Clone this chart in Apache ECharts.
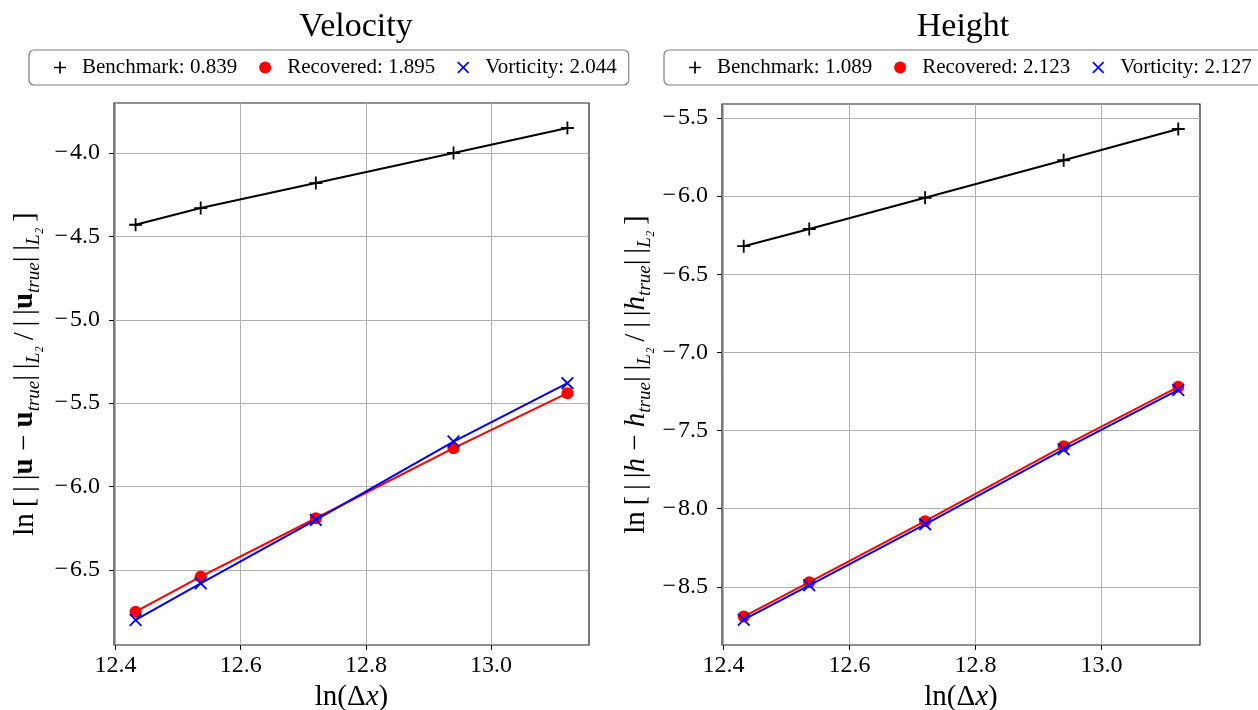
<!DOCTYPE html>
<html>
<head>
<meta charset="utf-8">
<script src="https://cdn.jsdelivr.net/npm/echarts@6/dist/echarts.min.js"></script>
<style>
  html, body, #main { width: 1258px; height: 710px; margin: 0; background: #fff; }
</style>
</head>
<body>
<div id="main"></div>
<script>
// ln(dx) for the five grids
var lnDx = [12.432, 12.536, 12.720, 12.940, 13.122];

// velocity errors
var velBench = [-4.43, -4.33, -4.18, -4.00, -3.85];
var velRec   = [-6.75, -6.54, -6.19, -5.77, -5.44];
var velVort  = [-6.80, -6.58, -6.20, -5.73, -5.38];
var velNames = ['Benchmark: 0.839', 'Recovered: 1.895', 'Vorticity: 2.044'];

// height errors
var hBench = [-6.32, -6.21, -6.01, -5.77, -5.57];
var hRec   = [-8.69, -8.47, -8.08, -7.60, -7.22];
var hVort  = [-8.71, -8.49, -8.10, -7.62, -7.24];
var hNames = ['Benchmark: 1.089', 'Recovered: 2.123', 'Vorticity: 2.127'];

var xTicks = [12.4, 12.6, 12.8, 13.0];
var velTicks = [-6.5, -6.0, -5.5, -5.0, -4.5, -4.0];
var hTicks = [-8.5, -8.0, -7.5, -7.0, -6.5, -6.0, -5.5];

var FONT = 'Liberation Serif';
var plusPath = 'path://M4.3,0h1.4v4.3h4.3v1.4h-4.3v4.3h-1.4v-4.3h-4.3v-1.4h4.3z';
var crossPath = 'path://M0,1L1,0L5,4L9,0L10,1L6,5L10,9L9,10L5,6L1,10L0,9L4,5Z';
var colors = ['#000000', '#ff0000', '#0000ff'];
var symbols = [plusPath, 'circle', crossPath];
var symSizes = [13, 12, 13];

function pairs(ys) {
  return ys.map(function (y, i) { return [lnDx[i], y]; });
}
function fmt(v) {
  return v.toFixed(1).replace('-', '\u2212\u200a');
}

function makeSeries(idx, names, arrs) {
  return arrs.map(function (ys, k) {
    return {
      name: names[k],
      type: 'line',
      xAxisIndex: idx, yAxisIndex: idx,
      data: pairs(ys),
      symbol: symbols[k],
      symbolSize: symSizes[k],
      showAllSymbol: true,
      lineStyle: { color: colors[k], width: 2 },
      itemStyle: { color: colors[k] },
      z: 3 + k
    };
  });
}

function makeLegend(names, left) {
  return {
    left: left, top: 50, width: 620,
    orient: 'horizontal',
    data: names.map(function (n, k) {
      return { name: n, icon: symbols[k], itemStyle: { color: colors[k] } };
    }),
    itemWidth: 12, itemHeight: 12, itemGap: 22,
    padding: [7, 12, 7, 25],
    borderColor: '#7f7f7f', borderWidth: 1.2, borderRadius: 5,
    textStyle: { fontFamily: FONT, fontSize: 21, color: '#000', padding: [0, 0, 0, 11] },
    selectedMode: false
  };
}

function xAxis(idx) {
  return {
    type: 'value', gridIndex: idx,
    min: 12.3975, max: 13.1565,
    name: 'ln(\u0394{i|x})',
    nameLocation: 'middle', nameGap: 36,
    nameTextStyle: { fontFamily: FONT, fontSize: 29, color: '#000',
      rich: { i: { fontFamily: FONT, fontSize: 29, fontStyle: 'italic' } } },
    axisLine: { show: false },
    axisTick: { show: true, length: 5, lineStyle: { color: '#000' }, customValues: xTicks },
    axisLabel: { customValues: xTicks, formatter: fmt, fontFamily: FONT, fontSize: 24, color: '#000', margin: 9 },
    splitLine: { show: true, lineStyle: { color: '#b0b0b0', width: 1 } }
  };
}

function yAxis(idx, min, max, ticks, name, gap) {
  return {
    type: 'value', gridIndex: idx,
    min: min, max: max,
    name: name,
    nameLocation: 'middle', nameGap: gap, nameRotate: 90,
    nameTextStyle: {
      fontFamily: FONT, fontSize: 29, color: '#000', lineHeight: 36,
      rich: {
        b: { fontFamily: FONT, fontSize: 29, fontWeight: 'bold', lineHeight: 36 },
        i: { fontFamily: FONT, fontSize: 29, fontStyle: 'italic', lineHeight: 36 },
        s: { fontFamily: FONT, fontSize: 19, fontStyle: 'italic', verticalAlign: 'bottom', lineHeight: 36 }
      }
    },
    axisLine: { show: false },
    axisTick: { show: true, length: 5, lineStyle: { color: '#000' }, customValues: ticks },
    axisLabel: { customValues: ticks, formatter: fmt, fontFamily: FONT, fontSize: 24, color: '#000', margin: 14 },
    splitLine: { show: true, lineStyle: { color: '#b0b0b0', width: 1 } }
  };
}

function yName(v) {
  var bar = '|\u2009|';
  return 'ln\u2009[\u2009' + bar + v + ' \u2212 ' + v + '{s|true}' + bar + '{s|L\u2082}\u2009/\u2009' +
    bar + v + '{s|true}' + bar + '{s|L\u2082}\u2009]';
}

var chart = echarts.init(document.getElementById('main'));
chart.setOption({
  animation: false,
  backgroundColor: '#fff',
  title: [
    { text: 'Velocity', left: 351, top: 5, textAlign: 'center',
      textStyle: { fontFamily: FONT, fontSize: 34, fontWeight: 'normal', color: '#000' } },
    { text: 'Height', left: 958, top: 5, textAlign: 'center',
      textStyle: { fontFamily: FONT, fontSize: 34, fontWeight: 'normal', color: '#000' } }
  ],
  legend: [makeLegend(velNames, 29), makeLegend(hNames, 664)],
  grid: [
    { left: 114, top: 103, width: 475, height: 542, show: true, borderColor: '#222', borderWidth: 1.2,
      containLabel: false, outerBoundsMode: 'none' },
    { left: 722, top: 104, width: 478, height: 541, show: true, borderColor: '#222', borderWidth: 1.2,
      containLabel: false, outerBoundsMode: 'none' }
  ],
  xAxis: [xAxis(0), xAxis(1)],
  yAxis: [
    yAxis(0, -6.95, -3.70, velTicks, yName('{b|u}'), 71),
    yAxis(1, -8.872, -5.41, hTicks, yName('{i|h}'), 68)
  ],
  series: makeSeries(0, velNames, [velBench, velRec, velVort])
    .concat(makeSeries(1, hNames, [hBench, hRec, hVort]))
});
window.onresize = chart.resize;
</script>
</body>
</html>
